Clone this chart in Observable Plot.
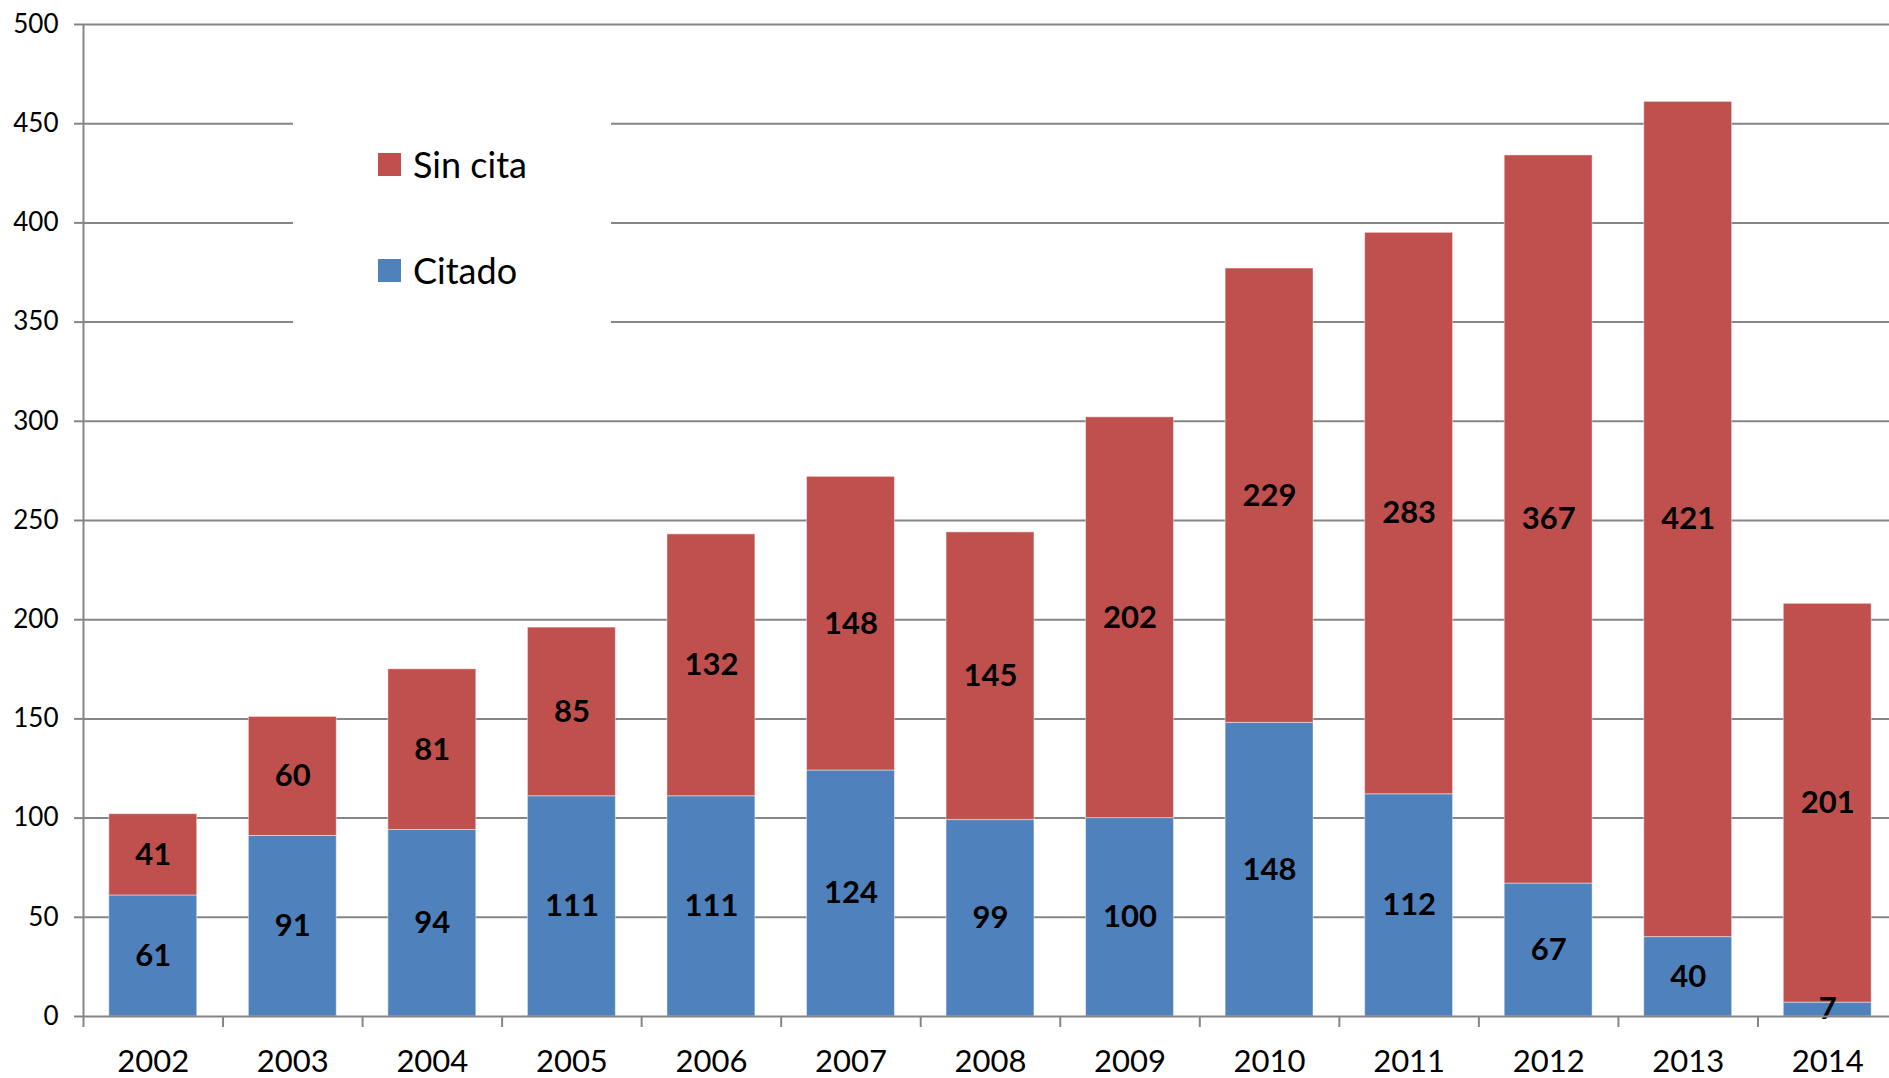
<!DOCTYPE html>
<html>
<head>
<meta charset="utf-8">
<script src="https://cdn.jsdelivr.net/npm/d3@7"></script>
<script src="https://cdn.jsdelivr.net/npm/@observablehq/plot@0.6"></script>
<style>
  html, body { margin: 0; padding: 0; background: #fff; overflow: hidden; }
  #wrap { position: relative; width: 1889px; height: 1078px; overflow: hidden; }
  #chart svg { max-width: none !important; width: 1897px !important; height: 1078px !important; }
  #legend { position: absolute; left: 293px; top: 40px; width: 318px; height: 360px; background: #fff;
            font-family: Lato, "Open Sans", sans-serif; font-size: 36px; color: #000; }
  .item { position: absolute; left: 85px; display: flex; align-items: center; }
  .sw { width: 23px; height: 23px; margin-right: 12px; }
</style>
</head>
<body>
<div id="wrap">
  <div id="chart"></div>
  <div id="legend"></div>
</div>
<script>
const years = ["2002","2003","2004","2005","2006","2007","2008","2009","2010","2011","2012","2013","2014"];
const citado = [61, 91, 94, 111, 111, 124, 99, 100, 148, 112, 67, 40, 7];
const sinCita = [41, 60, 81, 85, 132, 148, 145, 202, 229, 283, 367, 421, 201];
const seriesNames = ["Citado", "Sin cita"];
const seriesColors = ["#4F81BD", "#C0504D"];
const yTicks = [0, 50, 100, 150, 200, 250, 300, 350, 400, 450, 500];

const data = [];
years.forEach((yr, i) => {
  data.push({year: yr, series: "Citado", value: citado[i]});
  data.push({year: yr, series: "Sin cita", value: sinCita[i]});
});

const W = 1897, ML = 83, MR = 0;
const step = (W - ML - MR) / years.length;

const chart = Plot.plot({
  width: W,
  height: 1078,
  marginLeft: ML,
  marginRight: MR,
  marginTop: 24,
  marginBottom: 62,
  style: {fontFamily: "Lato, 'Open Sans', sans-serif", background: "#fff", fontSize: "26px"},
  x: {domain: years, paddingInner: 0.37, paddingOuter: 0.185, round: false, label: null},
  y: {domain: [0, 500], label: null},
  color: {domain: seriesNames, range: seriesColors},
  marks: [
    Plot.gridY(yTicks.filter(d => d > 0), {stroke: "#868686", strokeOpacity: 1, strokeWidth: 2}),
    Plot.barY(data, {x: "year", y: "value", fill: "series", order: seriesNames, stroke: "#fff", strokeOpacity: 0.45, strokeWidth: 1}),
    Plot.text(data, Plot.stackY({x: "year", y: "value", z: "series", order: seriesNames, text: d => String(d.value),
      fontSize: 31, fontWeight: "bold", fill: "#000"})),
    Plot.ruleY([0], {stroke: "#868686", strokeWidth: 2}),
    Plot.axisY(yTicks, {tickSize: 9, tickPadding: 16, fontSize: 26, stroke: "#868686", fill: "#000", strokeWidth: 2, label: null}),
    Plot.ruleX([years[0]], {dx: -step / 2, stroke: "#868686", strokeWidth: 2}),
    Plot.axisX({tickSize: 11, text: null, dx: -step / 2, stroke: "#868686", strokeWidth: 2, label: null}),
    Plot.axisX({tickSize: 0, tickPadding: 33, fontSize: 31, fill: "#000", label: null})
  ]
});
document.getElementById("chart").appendChild(chart);

const legend = document.getElementById("legend");
const legendItems = [["Sin cita", seriesColors[1], 102], ["Citado", seriesColors[0], 208]];
legendItems.forEach(([name, color, top]) => {
  const it = document.createElement("div");
  it.className = "item";
  it.style.top = top + "px";
  it.innerHTML = `<div class="sw" style="background:${color}"></div><span>${name}</span>`;
  legend.appendChild(it);
});
</script>
</body>
</html>
